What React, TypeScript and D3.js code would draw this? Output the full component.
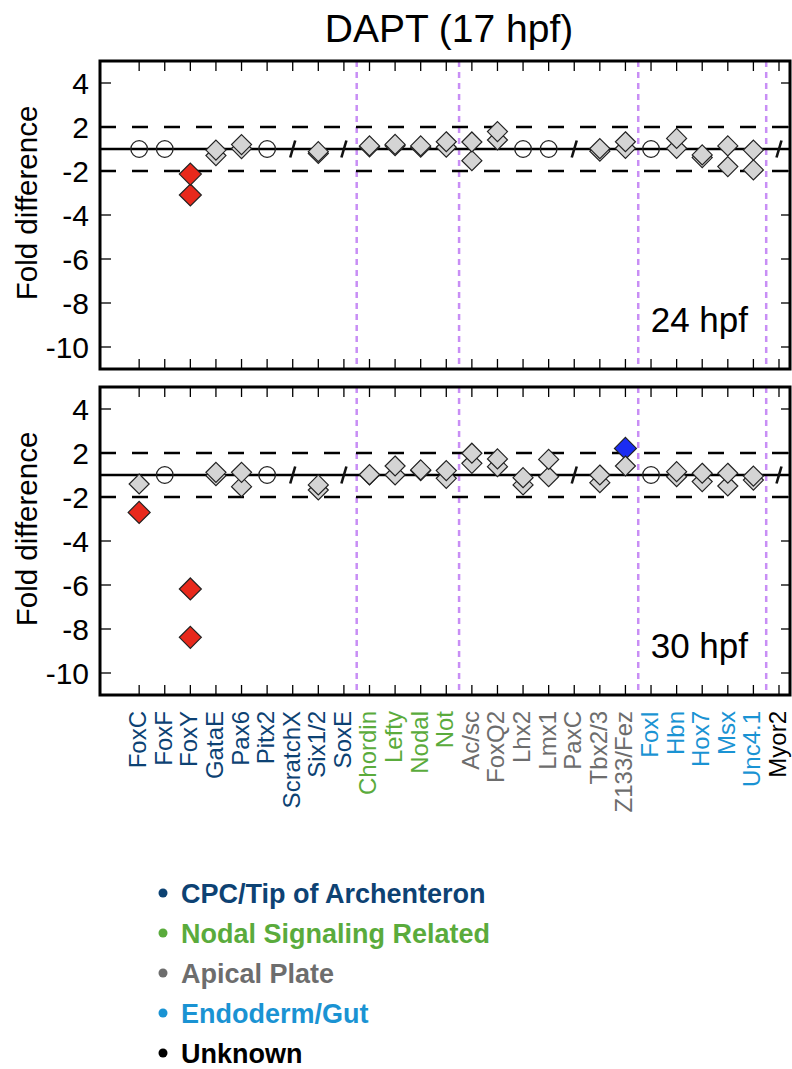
import React from "react";
import * as d3 from "d3";

const genes = ["FoxC","FoxF","FoxY","GataE","Pax6","Pitx2","ScratchX","Six1/2","SoxE","Chordin","Lefty","Nodal","Not","Ac/sc","FoxQ2","Lhx2","Lmx1","PaxC","Tbx2/3","Z133/Fez","FoxI","Hbn","Hox7","Msx","Unc4.1","Myor2"];
const geneGroup = [0,0,0,0,0,0,0,0,0,1,1,1,1,2,2,2,2,2,2,2,3,3,3,3,3,4];
const groupNames = ["CPC/Tip of Archenteron","Nodal Signaling Related","Apical Plate","Endoderm/Gut","Unknown"];
const groupColors = ["#0d4273","#5aab3c","#6d6d6d","#1a93d3","#000000"];
const groupBoundaries = [8.5, 12.5, 19.5, 24.5];

// status: "d" = measured (diamonds), "nc" = no change (circle), "nd" = not detected (slash)
const status24 = ["nc","nc","d","d","d","nc","nd","d","nd","d","d","d","d","d","d","nc","nc","nd","d","d","nc","d","d","d","d","nd"];
const repA24: (number | null)[] = [null,null,-2.14,-1.05,1.2,null,null,-1.12,null,1.14,1.21,1.14,1.33,1.32,1.79,null,null,null,1.02,1.33,null,1.48,-1.27,1.14,-1.05,null];
const repB24: (number | null)[] = [null,null,-3.09,-1.3,1.02,null,null,-1.2,null,1.1,1.15,1.08,1.08,-1.53,1.41,null,null,null,-1.1,1.03,null,1.03,-1.39,-1.8,-1.95,null];

const status30 = ["d","nc","d","d","d","nc","nd","d","nd","d","d","d","d","d","d","d","d","nd","d","d","nc","d","d","d","d","nd"];
const repA30: (number | null)[] = [-1.41,null,-6.18,1.12,1.12,null,null,-1.45,null,1.02,1.41,1.23,1.2,1.99,1.73,-1.12,1.71,null,-1.0,1.41,null,1.15,1.08,1.08,-1.05,null];
const repB30: (number | null)[] = [-2.7,null,-8.38,-1.03,-1.53,null,null,-1.68,null,1.0,1.0,1.2,-1.15,1.53,1.38,-1.45,-1.08,null,-1.35,2.21,null,-1.08,-1.3,-1.5,-1.23,null];

const yTicks = [4, 2, -2, -4, -6, -8, -10];
const panelLabels = ["24 hpf", "30 hpf"];
const title = "DAPT (17 hpf)";

const W = 792, H = 1069;
const left = 100, right = 790;
const FONT = "'Liberation Sans', Arial, Helvetica, sans-serif";

const x = d3.scaleLinear().domain([-1.53, 25.43]).range([left, right]);

function Panel({ top, status, a, b, label }: { top: number; status: string[]; a: (number | null)[]; b: (number | null)[]; label: string }) {
  const y0 = top + 88;
  const y = d3.scaleLinear().domain([-11, -1, 1, 5]).range([y0 + 220, y0, y0, top]);
  const bottom = y(-11);
  const diamond = (cx: number, cy: number, r: number) => `M${cx},${cy - r}L${cx + r},${cy}L${cx},${cy + r}L${cx - r},${cy}Z`;
  const color = (v: number) => (v <= -2 ? "#e8291c" : v >= 2 ? "#1b2cf2" : "#d4d4d4");
  const markers: React.ReactNode[] = [];
  genes.forEach((g, i) => {
    const cx = x(i);
    if (status[i] === "nc") {
      markers.push(<circle key={"c" + i} cx={cx} cy={y(1)} r={8.3} fill="none" stroke="#222" strokeWidth={1.3} />);
    } else if (status[i] === "nd") {
      markers.push(<line key={"s" + i} x1={cx - 2.5} y1={y(1) + 8.5} x2={cx + 2.5} y2={y(1) - 8.5} stroke="#111" strokeWidth={2.6} />);
    } else {
      [b[i], a[i]].forEach((v, k) => {
        if (v == null) return;
        const sig = Math.abs(v) >= 2;
        markers.push(<path key={"d" + i + "_" + k} d={diamond(cx, y(v), sig ? 11 : 10)} fill={color(v)} stroke="#222" strokeWidth={1.2} />);
      });
    }
  });
  return (
    <g>
      {groupBoundaries.map((gb) => (
        <line key={"gb" + gb} x1={x(gb)} x2={x(gb)} y1={top} y2={bottom} stroke="#c88ef5" strokeWidth={2.5} strokeDasharray="6,5" />
      ))}
      {[2, -2].map((v) => (
        <line key={"th" + v} x1={left} x2={right} y1={y(v)} y2={y(v)} stroke="#000" strokeWidth={2.7} strokeDasharray="16,16" />
      ))}
      <line x1={left} x2={right} y1={y0} y2={y0} stroke="#000" strokeWidth={2.4} />
      {genes.map((g, i) => (
        <g key={"xt" + i}>
          <line x1={x(i)} x2={x(i)} y1={top} y2={top + 10} stroke="#000" strokeWidth={1.3} />
          <line x1={x(i)} x2={x(i)} y1={bottom} y2={bottom - 10} stroke="#000" strokeWidth={1.3} />
        </g>
      ))}
      {yTicks.map((t) => (
        <g key={"yt" + t}>
          <line x1={left} x2={left + 11} y1={y(t)} y2={y(t)} stroke="#000" strokeWidth={1.3} />
          <line x1={right} x2={right - 9} y1={y(t)} y2={y(t)} stroke="#000" strokeWidth={1.3} />
          <text x={89} y={y(t)} dy="0.36em" textAnchor="end" fontSize={30} fontFamily={FONT} fill="#000">{t}</text>
        </g>
      ))}
      {markers}
      <rect x={left} y={top} width={right - left} height={bottom - top} fill="none" stroke="#000" strokeWidth={3} />
      <text x={748} y={y0 + 183} textAnchor="end" fontSize={35} fontFamily={FONT} fill="#000">{label}</text>
      <text transform={`translate(37,${y0 + 54}) rotate(-90)`} textAnchor="middle" fontSize={29.5} fontFamily={FONT} fill="#000">Fold difference</text>
    </g>
  );
}

export default function App() {
  return (
    <svg width={W} height={H} style={{ position: "absolute", left: 0, top: 0, background: "#fff" }}>
      <rect width={W} height={H} fill="#fff" />
      <text x={449} y={42} textAnchor="middle" fontSize={39} fontFamily={FONT} fill="#000">{title}</text>
      <Panel top={61} status={status24} a={repA24} b={repB24} label={panelLabels[0]} />
      <Panel top={387} status={status30} a={repA30} b={repB30} label={panelLabels[1]} />
      {genes.map((g, i) => (
        <text key={"xl" + i} transform={`translate(${x(i) + 7},711) rotate(-90)`} textAnchor="end" fontSize={24} fontFamily={FONT} fill={groupColors[geneGroup[i]]}>{g}</text>
      ))}
      {groupNames.map((n, i) => (
        <g key={"lg" + i}>
          <circle cx={163} cy={893 + i * 40} r={4.5} fill={groupColors[i]} />
          <text x={181} y={893 + i * 40} dy="0.36em" fontSize={27} fontWeight="bold" fontFamily={FONT} fill={groupColors[i]}>{n}</text>
        </g>
      ))}
    </svg>
  );
}
